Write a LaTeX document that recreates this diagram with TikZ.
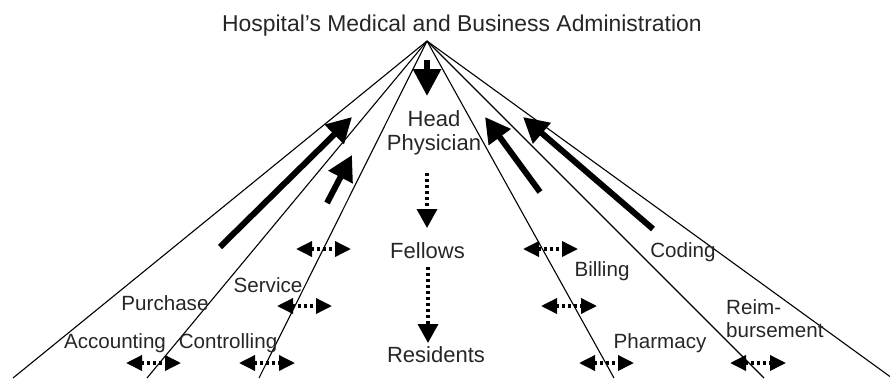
\documentclass[tikz,border=0pt]{standalone}
\usepackage{fontspec}
\setmainfont{Liberation Sans}
\usetikzlibrary{arrows.meta}
\begin{document}
\begin{tikzpicture}[x=1pt,y=-1pt,
  ray/.style={line width=1.1pt},
  titletext/.style={font=\fontsize{22.9}{25}\selectfont, inner sep=0pt, text=black!85},
  roletext/.style={font=\fontsize{22}{23.5}\selectfont, inner sep=0pt, align=center, text=black!85},
  unittext/.style={font=\fontsize{20.6}{23}\selectfont, inner sep=0pt, align=left, text=black!85},
  bigarrow/.style={line width=6pt, -{Triangle[length=25pt,width=26pt]}},
  dotdown/.style={line width=3.5pt, dash pattern=on 3pt off 3pt, -{Triangle[length=19pt,width=20pt]}},
  exchange/.style={line width=3.5pt, dash pattern=on 3pt off 3pt,
    {Triangle[length=16pt,width=15pt]}-{Triangle[length=16pt,width=15pt]}},
]
\useasboundingbox (0,0) rectangle (890,378);

% administration and the fan of rays
\node[titletext, anchor=base west] (admin) at (222,31) {Hospital’s Medical and Business Administration};
\coordinate (apex) at (427,41);
\coordinate (b1) at (13,378);
\coordinate (b2) at (147,378);
\coordinate (b3) at (259,378);
\coordinate (b4) at (614,378);
\coordinate (b5) at (764,378);
\coordinate (b6) at (892,378);
\foreach \b in {b1,b2,b3,b4,b5,b6}
  \draw[ray] (apex) -- (\b);

% medical hierarchy in the middle (base anchor sits on the last line)
\node[roletext, anchor=base] (head) at (434,150) {Head\\Physician};
\node[roletext, anchor=base] (fellows) at (427.5,258) {Fellows};
\node[roletext, anchor=base] (residents) at (436,362) {Residents};

\coordinate (top0) at (427,60);
\coordinate (top1) at (427,96);
\draw[line width=6pt, -{Triangle[length=27pt,width=27pt]}] (top0) -- (top1);

\coordinate (hd0) at (427,173);
\coordinate (hd1) at (427,228);
\draw[dotdown] (hd0) -- (hd1);
\coordinate (fd0) at (428,267);
\coordinate (fd1) at (428,343);
\draw[dotdown] (fd0) -- (fd1);

% business units
\node[unittext, anchor=base] (accounting) at (115,348) {Accounting};
\node[unittext, anchor=base] (controlling) at (228,348) {Controlling};
\node[unittext, anchor=base] (purchase) at (165,310) {Purchase};
\node[unittext, anchor=base] (service) at (268,292) {Service};
\node[unittext, anchor=base] (coding) at (683,257) {Coding};
\node[unittext, anchor=base] (billing) at (602,276) {Billing};
\node[unittext, anchor=base] (pharmacy) at (660,348) {Pharmacy};
\node[unittext, anchor=base west] (reimb) at (726,337) {Reim-\\bursement};

% reporting arrows towards the administration
\coordinate (la0) at (220,247);
\coordinate (la1) at (352,117);
\draw[bigarrow] (la0) -- (la1);
\coordinate (lb0) at (327,203);
\coordinate (lb1) at (352,155);
\draw[bigarrow] (lb0) -- (lb1);
\coordinate (ra0) at (540,192);
\coordinate (ra1) at (485,117);
\draw[bigarrow] (ra0) -- (ra1);
\coordinate (rb0) at (653,229);
\coordinate (rb1) at (523,117);
\draw[bigarrow] (rb0) -- (rb1);

% exchanges across the rays
\foreach \n/\xa/\xb/\yy in {e1/296/351/249, e2/277/332/306, e3/126/181/363, e4/239/295/363,
                           e5/523/578/249, e6/541/597/306, e7/579/634/363, e8/730/786/363} {
  \coordinate (\n a) at (\xa,\yy);
  \coordinate (\n b) at (\xb,\yy);
  \draw[exchange] (\n a) -- (\n b);
}
\end{tikzpicture}
\end{document}
